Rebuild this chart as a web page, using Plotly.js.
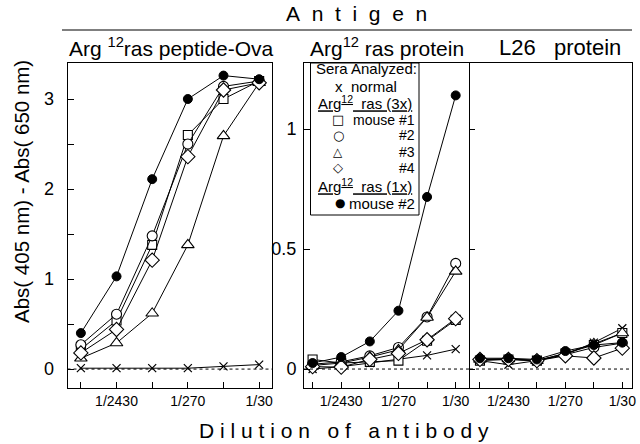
<!DOCTYPE html>
<html>
<head>
<meta charset="utf-8">
<script src="https://cdn.plot.ly/plotly-3.0.1.min.js"></script>
<style>body{margin:0;padding:0;background:#fff}#chart{width:640px;height:444px}</style>
</head>
<body>
<div id="chart"></div>
<script>
// ---- data ----
var dilutions = ['1/7290', '1/2430', '1/810', '1/270', '1/90', '1/30'];
var dilutionLabels = ['', '1/2430', '', '1/270', '', '1/30'];
var panelTitles = ['Arg <sup>12</sup>ras peptide-Ova', 'Arg<sup>12</sup> ras protein', 'L26\u00a0\u00a0\u00a0protein'];
var seriesNames = ['normal', 'Arg12 ras (3x) mouse #1', 'Arg12 ras (3x) mouse #2', 'Arg12 ras (3x) mouse #3', 'Arg12 ras (3x) mouse #4', 'Arg12 ras (1x) mouse #2'];

// Arg12 ras peptide-Ova
var pepNormal = [0.01, 0.01, 0.01, 0.01, 0.03, 0.05];
var pepM1 = [0.22, 0.54, 1.38, 2.60, 3.00, 3.20];
var pepM2 = [0.27, 0.61, 1.48, 2.50, 3.14, 3.20];
var pepM3 = [0.12, 0.29, 0.62, 1.38, 2.59, 3.18];
var pepM4 = [0.18, 0.44, 1.21, 2.36, 3.10, 3.18];
var pep1xM2 = [0.40, 1.03, 2.11, 3.00, 3.26, 3.22];

// Arg12 ras protein
var protNormal = [0.00, 0.01, 0.025, 0.04, 0.057, 0.083];
var protM1 = [0.04, 0.025, 0.03, 0.035, 0.118, 0.205];
var protM2 = [0.02, 0.03, 0.055, 0.09, 0.217, 0.44];
var protM3 = [0.015, 0.025, 0.05, 0.08, 0.215, 0.407];
var protM4 = [0.01, 0.008, 0.04, 0.065, 0.122, 0.21];
var prot1xM2 = [0.025, 0.05, 0.115, 0.243, 0.717, 1.14];

// L26 protein
var l26Normal = [0.035, 0.018, 0.035, 0.06, 0.11, 0.17];
var l26M1 = [0.035, 0.04, 0.035, 0.065, 0.10, 0.15];
var l26M2 = [0.04, 0.042, 0.035, 0.06, 0.09, 0.108];
var l26M3 = [0.04, 0.042, 0.035, 0.065, 0.105, 0.15];
var l26M4 = [0.04, 0.04, 0.035, 0.055, 0.046, 0.087];
var l261xM2 = [0.045, 0.045, 0.04, 0.075, 0.10, 0.11];

// ---- build ----
var W = 640, H = 444;
function px(x) { return x / W; }
function py(y) { return 1 - y / H; }
var FONT = 'Liberation Sans, Arial, Helvetica, sans-serif';
var SYM = 'DejaVu Sans, sans-serif';

var styles = [
  {symbol: 'x-thin', size: 8, color: '#000', line: {color: '#000', width: 1.2}},
  {symbol: 'square', size: 9, color: '#fff', line: {color: '#000', width: 1.1}},
  {symbol: 'circle', size: 10, color: '#fff', line: {color: '#000', width: 1.1}},
  {symbol: 'triangle-up', size: 11, color: '#fff', line: {color: '#000', width: 1.1}},
  {symbol: 'diamond', size: 11, color: '#fff', line: {color: '#000', width: 1.1}},
  {symbol: 'circle', size: 9, color: '#000', line: {color: '#000', width: 1}}
];
var panels = [
  [pepNormal, pepM1, pepM2, pepM3, pepM4, pep1xM2],
  [protNormal, protM1, protM2, protM3, protM4, prot1xM2],
  [l26Normal, l26M1, l26M2, l26M3, l26M4, l261xM2]
];
var axSuffix = ['', '2', '3'];
var traces = [];
panels.forEach(function (series, p) {
  series.forEach(function (vals, i) {
    traces.push({
      type: 'scatter', mode: 'lines+markers',
      x: dilutions, y: vals, name: seriesNames[i],
      xaxis: 'x' + axSuffix[p], yaxis: 'y' + axSuffix[p],
      line: {color: '#000', width: 1},
      marker: styles[i], cliponaxis: false
    });
  });
});

function xax(domain, range) {
  return {
    domain: domain, type: 'category', range: range,
    tickmode: 'array', tickvals: dilutions, ticktext: dilutionLabels,
    ticks: 'inside', ticklen: 6, tickwidth: 1, tickcolor: '#000',
    showline: true, linecolor: '#000', linewidth: 1, mirror: true,
    showgrid: false, zeroline: false, fixedrange: true,
    tickfont: {family: FONT, size: 14, color: '#000'}
  };
}
var ydom = [py(388), py(63)];
var layout = {
  width: W, height: H,
  margin: {l: 0, r: 0, t: 0, b: 0},
  paper_bgcolor: '#fff', plot_bgcolor: '#fff',
  showlegend: false,
  font: {family: FONT, color: '#000'},
  xaxis: xax([px(67.5), px(272)], [-0.375, 5.36]),
  xaxis2: xax([px(304), px(470)], [-0.3, 5.5]),
  xaxis3: xax([px(470), px(632)], [-0.35, 5.34]),
  yaxis: {
    domain: ydom, range: [-0.21, 3.4], anchor: 'x',
    tickvals: [0, 1, 2, 3], ticks: 'inside', ticklen: 6, tickcolor: '#000', ticklabelstandoff: 9,
    minor: {tickvals: [0.5, 1.5, 2.5], ticks: 'inside', ticklen: 6, tickcolor: '#000'},
    showline: true, linecolor: '#000', mirror: true, showgrid: false, zeroline: false,
    tickfont: {family: FONT, size: 18, color: '#000'}
  },
  yaxis2: {
    domain: ydom, range: [-0.079, 1.275], anchor: 'x2',
    tickvals: [0, 0.5, 1], ticktext: ['0', '0.5', '1'], ticks: 'inside', ticklen: 6, tickcolor: '#000', ticklabelstandoff: 3,
    showline: true, linecolor: '#000', mirror: false, showgrid: false, zeroline: false,
    tickfont: {family: FONT, size: 18, color: '#000'}
  },
  yaxis3: {
    domain: ydom, range: [-0.079, 1.275], anchor: 'x3',
    tickvals: [0, 0.5, 1], ticks: 'inside', ticklen: 5, tickcolor: '#000', showticklabels: false,
    showline: true, linecolor: '#000', mirror: true, showgrid: false, zeroline: false
  },
  shapes: [],
  annotations: []
};

// dotted zero lines
['', '2', '3'].forEach(function (s) {
  layout.shapes.push({type: 'line', xref: 'x' + s + ' domain', x0: 0, x1: 1, yref: 'y' + s, y0: 0, y1: 0,
    line: {color: '#000', width: 1, dash: 'dot'}});
});
// line under "Antigen"
layout.shapes.push({type: 'line', xref: 'paper', yref: 'paper', x0: px(62), x1: px(632), y0: py(30), y1: py(30), line: {color: '#000', width: 1.2}});
// legend box
layout.shapes.push({type: 'rect', xref: 'paper', yref: 'paper', x0: px(310.5), x1: px(419), y0: py(215), y1: py(63), line: {color: '#000', width: 1}, fillcolor: 'rgba(0,0,0,0)'});

function ann(text, x, y, opts) {
  var a = {text: text, x: px(x), y: py(y), xref: 'paper', yref: 'paper', showarrow: false,
    xanchor: 'center', yanchor: 'middle', font: {family: FONT, size: 15, color: '#000'}};
  for (var k in opts) a[k] = opts[k];
  layout.annotations.push(a);
}
var sp = '\u00a0';
function spaced(str) {
  return str.split(' ').map(function (w) { return w.split('').join(sp); }).join(sp + sp + sp);
}
function symFont(sz) { return {family: SYM, size: sz, color: '#000'}; }
var F14 = {family: FONT, size: 14, color: '#000'};
ann('A' + sp + sp + 'n' + sp + sp + 't' + sp + sp + 'i' + sp + sp + 'g' + sp + sp + 'e' + sp + sp + 'n', 356, 13, {font: {family: FONT, size: 21, color: '#000'}});
ann(panelTitles[0], 171, 47, {font: {family: FONT, size: 21, color: '#000'}});
ann(panelTitles[1], 387, 47, {font: {family: FONT, size: 21, color: '#000'}});
ann(panelTitles[2], 560, 47, {font: {family: FONT, size: 22, color: '#000'}});
ann(spaced('Dilution of antibody'), 344, 430, {font: {family: FONT, size: 21, color: '#000'}});
ann('Abs( 405 nm) - Abs( 650 nm)', 21, 192, {textangle: -90, font: {family: FONT, size: 20.5, color: '#000'}});

// legend contents
ann('Sera Analyzed:', 314, 69, {xanchor: 'left'});
ann('x', 339, 86);
ann('normal', 349, 86, {xanchor: 'left'});
ann('<u>Arg<sup>12</sup>' + sp + sp + 'ras (3x)</u>', 316, 103, {xanchor: 'left'});
ann('\u25a1', 338, 119.5, {font: symFont(13)});
ann('mouse #1', 417, 119.5, {xanchor: 'right', font: F14});
ann('\u25cb', 338, 135.5, {font: symFont(13)});
ann('#2', 417, 135.5, {xanchor: 'right', font: F14});
ann('\u25b3', 338, 151.5, {font: symFont(12)});
ann('#3', 417, 151.5, {xanchor: 'right', font: F14});
ann('\u25c7', 338, 167.5, {font: symFont(13)});
ann('#4', 417, 167.5, {xanchor: 'right', font: F14});
ann('<u>Arg<sup>12</sup>' + sp + sp + 'ras (1x)</u>', 316, 186, {xanchor: 'left'});
ann('\u25cf', 340, 203, {font: symFont(12)});
ann('mouse #2', 417, 203, {xanchor: 'right'});

Plotly.newPlot('chart', traces, layout, {displayModeBar: false, staticPlot: true});
</script>
</body>
</html>
